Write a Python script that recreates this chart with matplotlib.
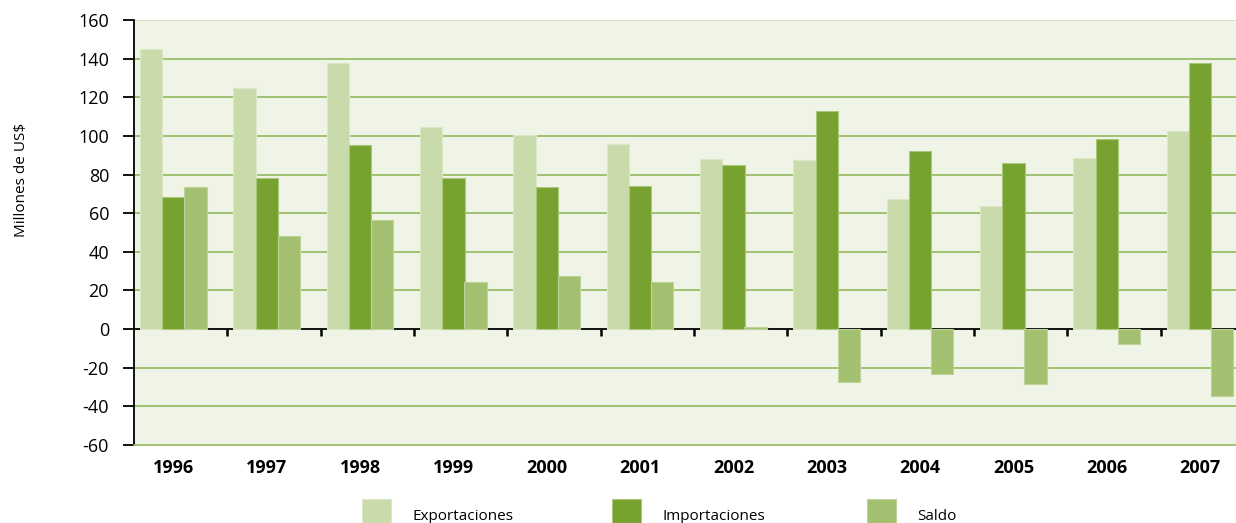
import matplotlib
matplotlib.use("Agg")
import matplotlib.pyplot as plt
from matplotlib.patches import Rectangle
import numpy as np

years = ["1996", "1997", "1998", "1999", "2000", "2001", "2002", "2003", "2004", "2005", "2006", "2007"]
exportaciones = [145.2, 124.6, 137.9, 104.6, 100.5, 95.8, 88.0, 87.5, 67.2, 63.7, 88.6, 102.4]
importaciones = [68.5, 78.2, 95.1, 78.2, 73.5, 74.0, 84.9, 112.7, 92.0, 86.1, 98.6, 137.6]
saldo = [73.7, 48.2, 56.3, 24.3, 27.4, 24.3, 1.2, -27.3, -23.5, -28.3, -7.9, -34.7]
series_names = ["Exportaciones", "Importaciones", "Saldo"]
yticks = [-60, -40, -20, 0, 20, 40, 60, 80, 100, 120, 140, 160]

plt.rcParams['font.family'] = ['Open Sans', 'DejaVu Sans']

fig = plt.figure(figsize=(12.36, 5.23), dpi=100)
W, H = 1236, 523
ax = fig.add_axes([134 / W, 1 - 445 / H, (1254 - 134) / W, (445 - 20) / H])
ax.set_facecolor('#f0f4e6')

x = np.arange(len(years))
bw = 0.238
colors = ['#cadbab', '#78a22f', '#a2c06f']
edges = ['#dbe7c6', '#a9c77c', '#bcd39a']
offsets = [-0.315, -0.077, 0.159]
for vals, off, c, e, name in zip([exportaciones, importaciones, saldo], offsets, colors, edges, series_names):
    ax.bar(x + off, vals, bw, color=c, edgecolor=e, linewidth=0.8, zorder=3, label=name)

ax.set_xlim(-0.5, len(years) - 0.5)
ax.set_ylim(-60, 160)
ax.set_yticks(yticks)
ax.set_yticklabels([str(v) for v in yticks])

for v in yticks:
    if v == 160:
        ax.axhline(v, color='#d3e2bd', lw=1.3, zorder=1)
    elif v not in (0, -60):
        ax.axhline(v, color='#93ba5c', lw=1.2, zorder=1)

for s in ['top', 'right']:
    ax.spines[s].set_visible(False)
ax.spines['bottom'].set_color('#93ba5c')
ax.spines['bottom'].set_linewidth(1.2)
ax.spines['left'].set_color('black')
ax.spines['left'].set_linewidth(1.3)

ax.tick_params(axis='y', direction='out', length=8, width=1.3, pad=10, labelsize=13, colors='black')
ax.set_xticks(x - 0.077)
ax.set_xticklabels(years, fontweight='bold', fontsize=13)
ax.tick_params(axis='x', length=0, pad=10)

sec = ax.secondary_xaxis(60 / 220)
sec.spines['bottom'].set_color('black')
sec.spines['bottom'].set_linewidth(1.3)
sec.set_xticks(np.arange(len(years) - 1) + 0.5)
sec.set_xticklabels([])
sec.tick_params(axis='x', direction='out', length=5, width=1.8, colors='black')

fig.text(22 / W, 1 - 180 / H, 'Millones de US$', rotation=90, ha='center', va='center', fontsize=11)

# legend (manual, at bottom)
leg_x = [362, 612, 867]
for lx, c, e, name in zip(leg_x, colors, edges, series_names):
    fig.add_artist(Rectangle((lx / W, 0), 29 / W, 24 / H, transform=fig.transFigure,
                             facecolor=c, edgecolor=e, linewidth=0.8))
    fig.text((lx + 50) / W, 2.5 / H, name, ha='left', va='baseline', fontsize=11)

fig.savefig('out.png', dpi=100)
